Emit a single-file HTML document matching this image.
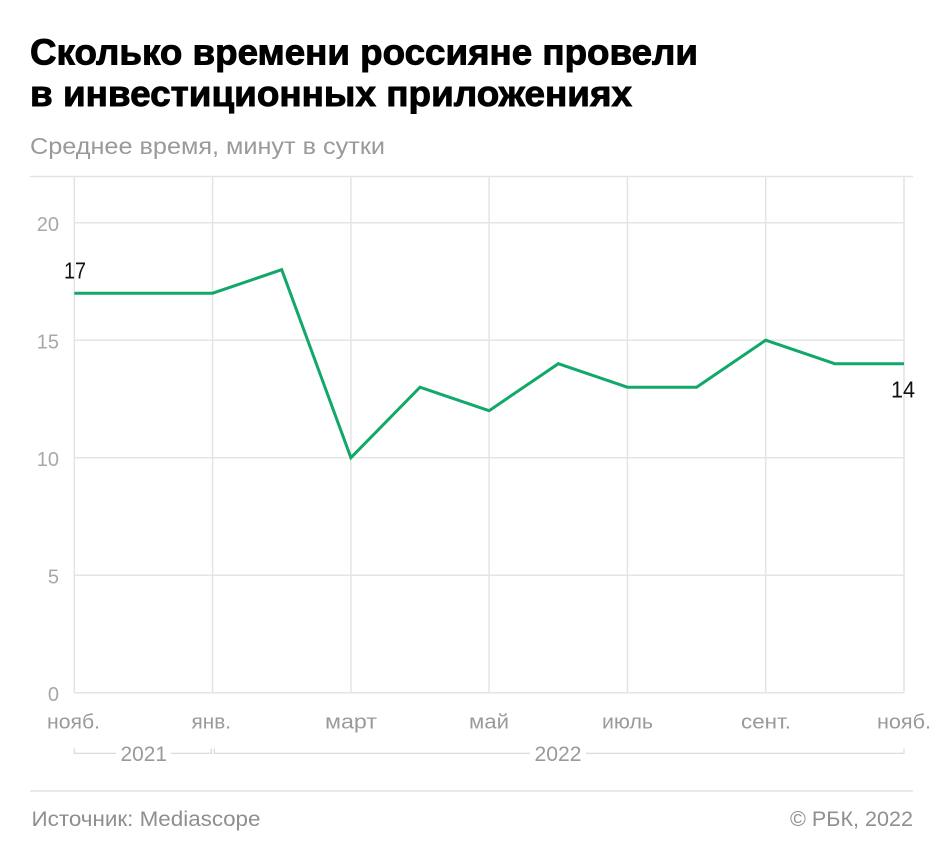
<!DOCTYPE html>
<html><head><meta charset="utf-8"><style>
html,body{margin:0;padding:0;background:#fff;}
svg{display:block;}
text{font-family:"Liberation Sans","Noto Sans CJK SC",sans-serif;}
</style></head><body>
<svg width="945" height="864" viewBox="0 0 945 864" xmlns="http://www.w3.org/2000/svg">
<rect width="945" height="864" fill="#fff"/>
<text x="30" y="64.5" font-size="36" font-weight="bold" fill="#000" stroke="#000" stroke-width="0.9" textLength="668" lengthAdjust="spacingAndGlyphs">Сколько времени россияне провели</text>
<text x="30" y="106" font-size="36" font-weight="bold" fill="#000" stroke="#000" stroke-width="0.9" textLength="602" lengthAdjust="spacingAndGlyphs">в инвестиционных приложениях</text>
<text x="30" y="154" font-size="23" fill="#9a9a9a" textLength="355" lengthAdjust="spacingAndGlyphs">Среднее время, минут в сутки</text>

<g stroke="#e4e4e4" stroke-width="1.5" fill="none">
<line x1="30" y1="176.5" x2="913" y2="176.5"/>
<line x1="74.3" y1="222.7" x2="904" y2="222.7"/>
<line x1="74.3" y1="340.2" x2="904" y2="340.2"/>
<line x1="74.3" y1="457.7" x2="904" y2="457.7"/>
<line x1="74.3" y1="575.2" x2="904" y2="575.2"/>
<line x1="74.3" y1="692.7" x2="904" y2="692.7"/>
<line x1="74.3" y1="176.5" x2="74.3" y2="692.7"/>
<line x1="212.6" y1="176.5" x2="212.6" y2="692.7"/>
<line x1="350.9" y1="176.5" x2="350.9" y2="692.7"/>
<line x1="489.1" y1="176.5" x2="489.1" y2="692.7"/>
<line x1="627.4" y1="176.5" x2="627.4" y2="692.7"/>
<line x1="765.7" y1="176.5" x2="765.7" y2="692.7"/>
<line x1="904" y1="176.5" x2="904" y2="692.7"/>
</g>

<g font-size="20" fill="#a8a8a8" text-anchor="end">
<text x="59" y="231">20</text>
<text x="59" y="348.5">15</text>
<text x="59" y="466">10</text>
<text x="59" y="583.5">5</text>
<text x="59" y="701">0</text>
</g>

<g font-size="20" fill="#9a9a9a">
<text x="47" y="728.3" textLength="53" lengthAdjust="spacingAndGlyphs">нояб.</text>
<text x="191.5" y="728.3" textLength="39.5" lengthAdjust="spacingAndGlyphs">янв.</text>
<text x="325" y="728.3" textLength="52" lengthAdjust="spacingAndGlyphs">март</text>
<text x="469" y="728.3" textLength="40" lengthAdjust="spacingAndGlyphs">май</text>
<text x="602" y="728.3" textLength="51" lengthAdjust="spacingAndGlyphs">июль</text>
<text x="741" y="728.3" textLength="50" lengthAdjust="spacingAndGlyphs">сент.</text>
<text x="877" y="728.3" textLength="54" lengthAdjust="spacingAndGlyphs">нояб.</text>
</g>

<g stroke="#d8d8d8" stroke-width="1.2" fill="none">
<polyline points="74.3,748.5 74.3,753.3 116,753.3"/>
<polyline points="171,753.3 211.3,753.3 211.3,748.5"/>
<polyline points="214.3,748.5 214.3,753.3 530,753.3"/>
<polyline points="586,753.3 904,753.3 904,748.5"/>
</g>
<g font-size="21" fill="#9a9a9a">
<text x="120.5" y="761" textLength="46.5" lengthAdjust="spacingAndGlyphs">2021</text>
<text x="534.5" y="761" textLength="47" lengthAdjust="spacingAndGlyphs">2022</text>
</g>

<polyline fill="none" stroke="#12a86a" stroke-width="3" stroke-linejoin="miter" points="74.3,293.2 143.4,293.2 212.6,293.2 281.7,269.7 350.9,457.7 420.0,387.2 489.1,410.7 558.3,363.7 627.4,387.2 696.6,387.2 765.7,340.2 834.8,363.7 904.0,363.7"/>

<text x="64" y="278.5" font-size="23" fill="#111" textLength="22" lengthAdjust="spacingAndGlyphs">17</text>
<text x="891" y="397.3" font-size="23" fill="#111" textLength="24" lengthAdjust="spacingAndGlyphs">14</text>

<line x1="30" y1="791" x2="913" y2="791" stroke="#e4e4e4" stroke-width="1.5"/>
<text x="31.5" y="826" font-size="21" fill="#8f8f8f" textLength="229" lengthAdjust="spacingAndGlyphs">Источник: Mediascope</text>
<text x="790" y="826" font-size="21" fill="#8f8f8f" textLength="123" lengthAdjust="spacingAndGlyphs">© РБК, 2022</text>
</svg>
</body></html>
